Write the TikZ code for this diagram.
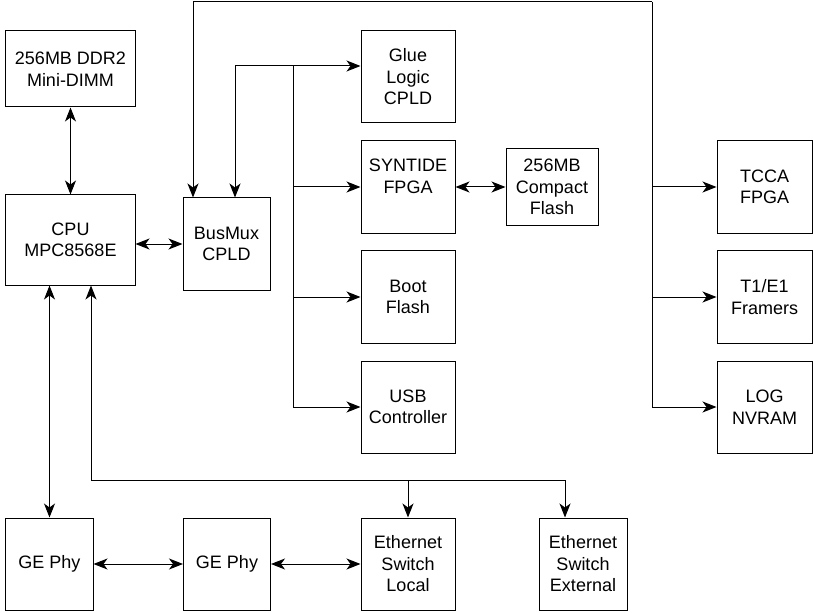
\documentclass[tikz,border=0pt]{standalone}
\usepackage{fontspec}
\setmainfont{Liberation Sans}
\usetikzlibrary{arrows.meta}

\begin{document}
\begin{tikzpicture}[x=1bp,y=-1bp,line width=1bp,
        >={Stealth[length=14bp,width=11bp,inset=4bp]},
        blk/.style={draw, align=center, inner sep=0pt,
            minimum width=94bp, minimum height=92bp,
            font=\fontsize{18bp}{21.5bp}\selectfont}]
    \useasboundingbox (0,0) rectangle (813,613);

    % left column
    \node[blk, minimum width=129bp, minimum height=76bp] (ddr) at (70.5,69) {256MB DDR2\\Mini-DIMM};
    \node[blk, minimum width=129bp, minimum height=90bp] (cpu) at (70.5,240) {CPU\\MPC8568E};
    \node[blk, minimum width=87bp] (busmux) at (226.5,244) {BusMux\\CPLD};

    % middle column
    \node[blk] (glue) at (408,77) {Glue\\Logic\\CPLD};
    \node[blk] (syntide) at (408,187) {SYNTIDE\\FPGA\\\mbox{}};
    \node[blk] (boot) at (408,297) {Boot\\Flash};
    \node[blk] (usb) at (408,407) {USB\\Controller};
    \node[blk, minimum width=92bp, minimum height=76bp] (cflash) at (552,187) {256MB\\Compact\\Flash};

    % right column
    \node[blk, minimum width=95bp] (tcca) at (764.5,187) {TCCA\\FPGA};
    \node[blk, minimum width=95bp] (framers) at (764.5,297) {T1/E1\\Framers};
    \node[blk, minimum width=95bp] (nvram) at (764.5,407) {LOG\\NVRAM};

    % bottom row
    \node[blk, minimum width=87bp] (phyA) at (49.5,564) {GE Phy};
    \node[blk, minimum width=87bp] (phyB) at (227,564) {GE Phy};
    \node[blk] (swlocal) at (408,564) {Ethernet\\Switch\\Local};
    \node[blk, minimum width=88bp] (swext) at (583,564) {Ethernet\\Switch\\External};

    % local bus
    \coordinate (bustop) at (293,66);
    \coordinate (busbot) at (293,407);
    \draw[<->] (ddr) -- (cpu);
    \draw[<->] (busmux.west) -- (busmux.west -| cpu.east);
    \draw[<->] ([xshift=8.5bp]busmux.north) |- (bustop -| glue.west);
    \draw (bustop) -- (busbot);
    \draw[->] (bustop |- syntide) -- (syntide);
    \draw[->] (bustop |- boot) -- (boot);
    \draw[->] (busbot) -- (usb);
    \draw[<->] (syntide) -- (cflash);

    % loop over the top
    \coordinate (looptop) at (652,2);
    \draw[->] (looptop) -| ([xshift=-33.5bp]busmux.north);
    \draw (looptop) -- (looptop |- nvram);
    \draw[->] (looptop |- tcca) -- (tcca);
    \draw[->] (looptop |- framers) -- (framers);
    \draw[->] (looptop |- nvram) -- (nvram);

    % ethernet
    \coordinate (ethbus) at (91,480);
    \coordinate (extdrop) at (565,480);
    \draw[<->] (phyA.north) -- (phyA.north |- cpu.south);
    \draw[->] (extdrop) -- (ethbus) -- (ethbus |- cpu.south);
    \draw[->] (ethbus -| swlocal) -- (swlocal);
    \draw[->] (extdrop) -- (extdrop |- swext.north);
    \draw[<->] (phyA) -- (phyB);
    \draw[<->] (phyB) -- (swlocal);
\end{tikzpicture}
\end{document}
